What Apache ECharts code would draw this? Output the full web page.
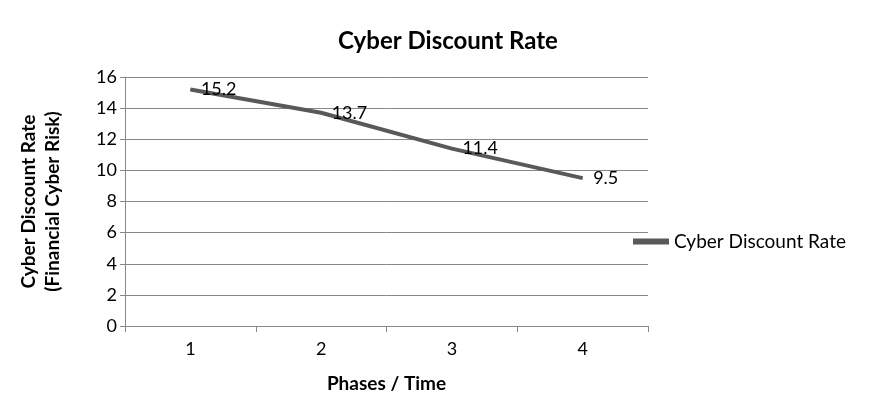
<!DOCTYPE html>
<html><head><meta charset="utf-8">
<script src="https://cdn.jsdelivr.net/npm/echarts@6/dist/echarts.min.js"></script>
<style>html,body{margin:0;padding:0;background:#fff}#c{width:872px;height:405px}</style>
</head><body><div id="c"></div>
<script>
const categories = ['1','2','3','4'];
const values = [15.2, 13.7, 11.4, 9.5];
const seriesName = 'Cyber Discount Rate';
const chart = echarts.init(document.getElementById('c'));
const F = 'Lato';
chart.setOption({
  animation:false,
  title:{text:'Cyber Discount Rate',left:443,top:24,textAlign:'center',textStyle:{fontFamily:F,fontSize:24,fontWeight:'bold',color:'#000'}},
  grid:{left:125,right:224,top:77,bottom:79},
  legend:{left:628,top:227,itemWidth:36,itemHeight:6,itemGap:4,icon:'rect',textStyle:{fontFamily:F,fontSize:19,color:'#000'},data:[seriesName]},
  xAxis:{type:'category',data:categories,boundaryGap:true,
    name:'Phases / Time',nameLocation:'middle',nameGap:48,
    nameTextStyle:{fontFamily:F,fontSize:19,fontWeight:'bold',color:'#000'},
    axisLine:{lineStyle:{color:'#888'}},axisTick:{show:true,length:6,lineStyle:{color:'#888'}},
    axisLabel:{fontFamily:F,fontSize:18,color:'#000',margin:14}},
  yAxis:{type:'value',min:0,max:16,interval:2,
    name:'Cyber Discount Rate\n(Financial Cyber Risk)',nameLocation:'middle',nameGap:60,
    nameTextStyle:{fontFamily:F,fontSize:19,fontWeight:'bold',color:'#000',lineHeight:24},
    axisLine:{show:true,lineStyle:{color:'#888'}},axisTick:{show:true,length:5,lineStyle:{color:'#888'}},
    splitLine:{lineStyle:{color:'#888'}},
    axisLabel:{fontFamily:F,fontSize:18,color:'#000',margin:8}},
  series:[{name:seriesName,type:'line',data:values,symbol:'circle',symbolSize:1,showSymbol:true,
    lineStyle:{color:'#595959',width:4},itemStyle:{color:'#595959'},
    label:{show:true,position:'right',distance:10,offset:[0,0],fontFamily:F,fontSize:18,color:'#000'}}]
});
</script></body></html>
